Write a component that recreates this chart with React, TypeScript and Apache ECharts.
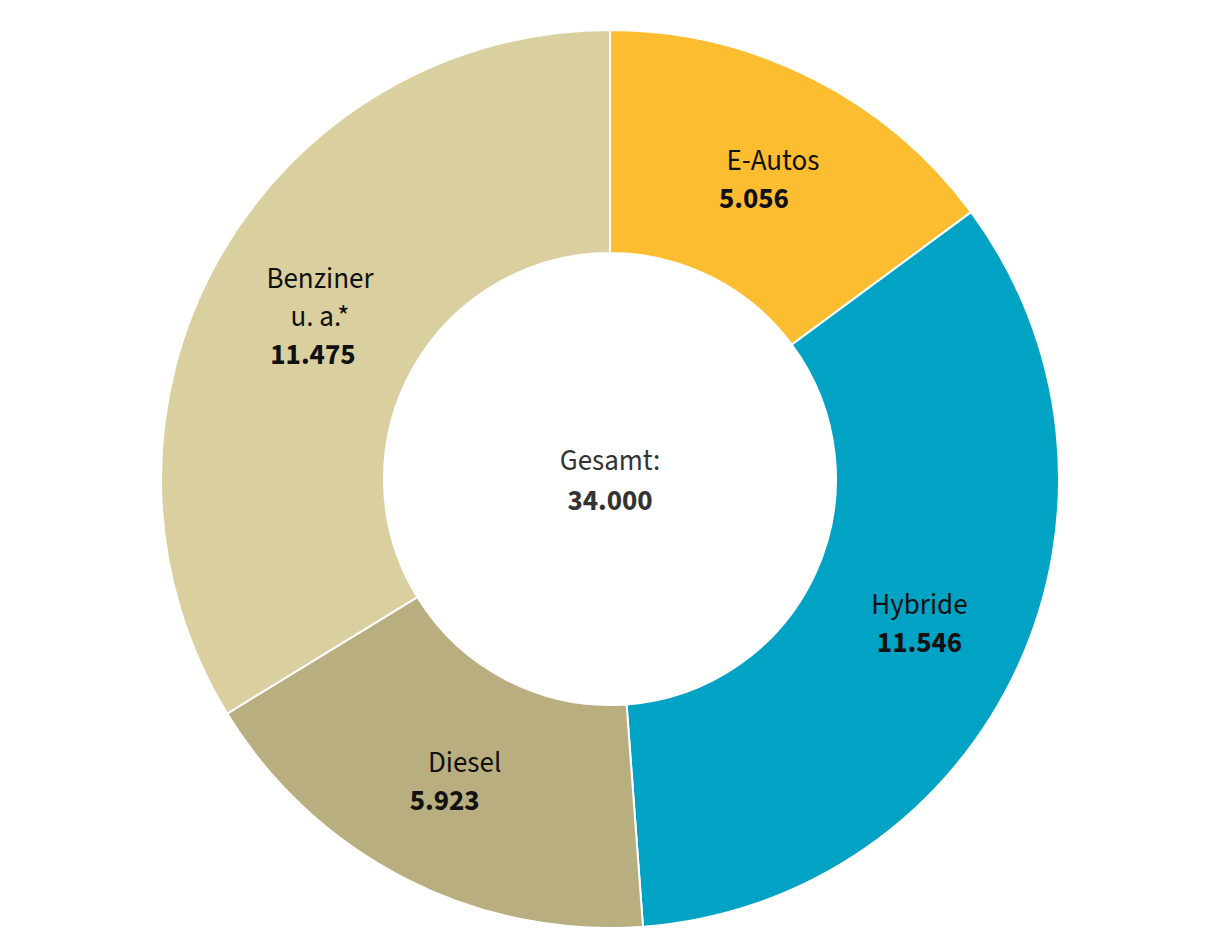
import React, { useEffect, useRef } from "react";
import * as echarts from "echarts";

const categories = ["E-Autos", "Hybride", "Diesel", "Benziner\nu. a.*"];
const values = [5056, 11546, 5923, 11475];
const colors = ["#FDBD30", "#00A3C4", "#B9AE80", "#DAD09F"];
const namePad = [19, 0, 20, 14];
const valuePad = [19, 0, 20, 0];
const labelShiftY = [5, 3, 0, 4];

const FONT = "'Source Sans Pro', 'Source Sans 3', Lato, 'Noto Sans', sans-serif";
const FS = 29;

const fmt = (v: number) => v.toLocaleString("de-DE");

export default function App() {
  const ref = useRef<HTMLDivElement>(null);
  useEffect(() => {
    if (!ref.current) return;
    const chart = echarts.init(ref.current, undefined, { renderer: "svg" });
    const total = values.reduce((a, b) => a + b, 0);
    const data = categories.map((name, i) => ({
      name,
      value: values[i],
      itemStyle: { color: colors[i] },
      label: {
        offset: [0, labelShiftY[i]],
        rich: {
          n: {
            fontFamily: FONT,
            fontSize: FS,
            color: "#111",
            lineHeight: 38,
            padding: [0, 0, 0, namePad[i]],
          },
          v: {
            fontFamily: FONT,
            fontSize: FS,
            fontWeight: "bold",
            color: "#111",
            lineHeight: 38,
            padding: [0, valuePad[i], 0, 0],
          },
        },
      },
    }));
    chart.setOption({
      animation: false,
      series: [
        {
          type: "pie",
          center: [602, 471],
          radius: [226, 449],
          startAngle: 90,
          clockwise: true,
          avoidLabelOverlap: false,
          itemStyle: { borderColor: "#fff", borderWidth: 2 },
          label: {
            show: true,
            position: "inside",
            formatter: (p: any) =>
              p.name
                .split("\n")
                .map((s: string) => `{n|${s}}`)
                .join("\n") + `\n{v|${fmt(p.value)}}`,
          },
          labelLine: { show: false },
          emphasis: { disabled: true },
          data,
        },
      ],
      graphic: [
        {
          type: "text",
          x: 602,
          y: 453,
          style: {
            text: "Gesamt:",
            fontFamily: FONT,
            fontSize: FS,
            fill: "#333",
            align: "center",
            verticalAlign: "middle",
          },
        },
        {
          type: "text",
          x: 602,
          y: 493,
          style: {
            text: fmt(total),
            fontFamily: FONT,
            fontSize: FS,
            fontWeight: "bold",
            fill: "#333",
            align: "center",
            verticalAlign: "middle",
          },
        },
      ],
    });
    return () => chart.dispose();
  }, []);
  return <div ref={ref} style={{ width: 1220, height: 940 }} />;
}
